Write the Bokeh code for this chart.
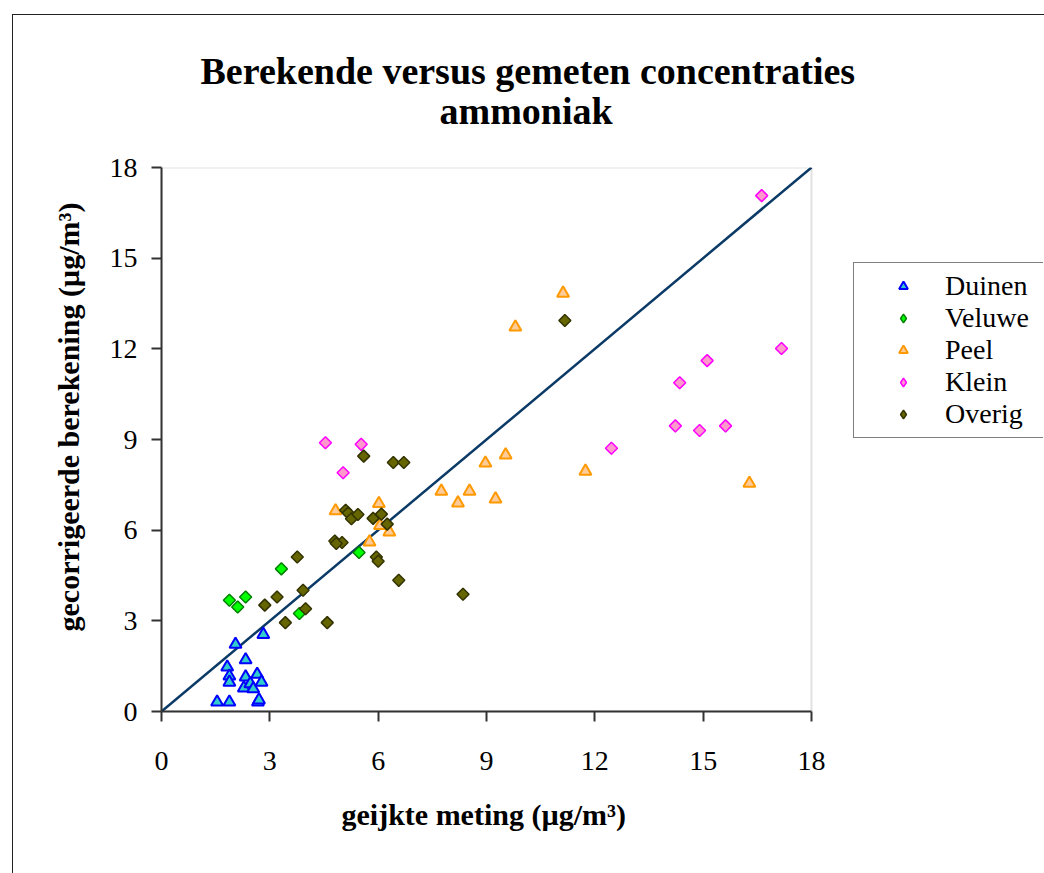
from math import pi
from bokeh.plotting import figure
from bokeh.models import Range1d, FixedTicker, Legend, LegendItem, Title, BoxAnnotation
from bokeh.embed import file_html
from bokeh.resources import INLINE

# ---- data ----
duinen_x = [1.54, 1.88, 2.67, 2.70, 2.05, 2.82, 2.33, 1.82, 1.88, 1.88, 2.33, 2.28, 2.46, 2.54, 2.65, 2.77]
duinen_y = [0.31, 0.31, 0.31, 0.38, 2.22, 2.55, 1.71, 1.47, 1.17, 0.97, 1.14, 0.78, 0.92, 0.75, 1.23, 0.97]

veluwe_x = [1.88, 2.11, 2.33, 3.32, 3.82, 5.47]
veluwe_y = [3.68, 3.46, 3.79, 4.72, 3.24, 5.26]

peel_x = [4.82, 6.02, 6.05, 6.31, 5.76, 7.75, 8.21, 8.53, 8.97, 9.53, 9.25, 11.12, 9.80, 11.74, 16.28]
peel_y = [6.64, 6.88, 6.15, 5.94, 5.61, 7.29, 6.90, 7.29, 8.22, 8.49, 7.03, 13.84, 12.72, 7.95, 7.55]

klein_x = [4.54, 5.53, 5.03, 17.17, 15.11, 14.35, 14.23, 14.90, 15.62, 12.46, 16.62]
klein_y = [8.89, 8.84, 7.90, 12.01, 11.61, 10.88, 9.45, 9.30, 9.45, 8.71, 17.07]

overig_x = [2.86, 3.20, 3.43, 3.76, 3.92, 3.99, 4.59, 4.80, 5.00, 4.84, 5.10, 5.17, 5.26, 5.44,
            5.86, 6.09, 6.25, 5.95, 6.00, 6.57, 5.60, 6.42, 6.71, 8.35, 11.17]
overig_y = [3.52, 3.79, 2.94, 5.11, 4.01, 3.40, 2.94, 5.64, 5.59, 5.56, 6.66, 6.57, 6.38, 6.52,
            6.39, 6.53, 6.20, 5.11, 4.97, 4.34, 8.45, 8.24, 8.24, 3.88, 12.94]

line_x = [0, 18]
line_y = [0, 18]

axis_min, axis_max = 0, 18
ticks = [0, 3, 6, 9, 12, 15, 18]

series_names = ["Duinen", "Veluwe", "Peel", "Klein", "Overig"]
title_lines = ["Berekende versus gemeten concentraties", "ammoniak"]
x_title = "geijkte meting (µg/m³)"
y_title = "gecorrigeerde berekening (µg/m³)"

FONT = "'Liberation Serif', 'Times New Roman', serif"

# the frame is widened to the right so that the legend lies inside it;
# the plotting area proper (0..18) keeps 650 px of width
PLOT_W, FRAME_W = 650, 882
x_end = axis_max * FRAME_W / PLOT_W

p = figure(
    width=1031, height=858,
    frame_width=FRAME_W, frame_height=544,
    min_border_left=148, min_border_right=1, min_border_top=152, min_border_bottom=162,
    x_range=Range1d(axis_min, x_end), y_range=Range1d(axis_min, axis_max),
    output_backend="svg", toolbar_location=None,
    background_fill_color="white", border_fill_color="white",
    title=None,
)
p.margin = (14, 0, 0, 12)
p.styles = {"border-left": "1px solid #222222", "border-top": "1px solid #222222"}

p.xgrid.visible = False
p.ygrid.visible = False
p.outline_line_color = None

# grey plot-area border (top and right sides show; axes cover the others)
p.add_layout(BoxAnnotation(left=axis_min, right=axis_max, bottom=axis_min, top=axis_max,
                           fill_alpha=0, line_color="#9a9a9a", line_width=2, level="underlay"))

for ax in (p.xaxis[0], p.yaxis[0]):
    ax.ticker = FixedTicker(ticks=ticks)
    ax.bounds = (axis_min, axis_max)
    ax.axis_line_color = "#333333"
    ax.axis_line_width = 2
    ax.major_tick_line_color = "#333333"
    ax.major_tick_line_width = 2
    ax.major_tick_out = 10
    ax.major_tick_in = 0
    ax.minor_tick_out = 0
    ax.minor_tick_in = 0
    ax.major_label_text_font = FONT
    ax.major_label_text_font_size = "28px"
    ax.major_label_text_color = "black"
    ax.axis_label_text_font = FONT
    ax.axis_label_text_font_size = "30px"
    ax.axis_label_text_font_style = "bold"
    ax.axis_label_text_color = "black"
p.xaxis.major_label_standoff = 30
p.yaxis.major_label_standoff = 14
# leading no-break spaces move the (rotated) title up a little, as in the original
p.yaxis.axis_label = "\u00a0" * 6 + y_title
p.yaxis.axis_label_standoff = 22

# x-axis title (placed under the axis, centred on the 0..18 area)
p.add_layout(Title(text=x_title, align="left", offset=180, standoff=47,
                   text_font=FONT, text_font_size="30px", text_font_style="bold",
                   text_color="black"), "below")

# diagonal 1:1 line
p.line(line_x, line_y, line_color="#0b3a66", line_width=2.5)

styles = {
    "Duinen": dict(fill_color="#33CCCC", line_color="#0000FF"),
    "Veluwe": dict(fill_color="#00FF00", line_color="#008000"),
    "Peel": dict(fill_color="#FFCC99", line_color="#FF9900"),
    "Klein": dict(fill_color="#FF99CC", line_color="#FF00FF"),
    "Overig": dict(fill_color="#666600", line_color="#333300"),
}
series_xy = {
    "Duinen": (duinen_x, duinen_y),
    "Veluwe": (veluwe_x, veluwe_y),
    "Peel": (peel_x, peel_y),
    "Klein": (klein_x, klein_y),
    "Overig": (overig_x, overig_y),
}

p.scatter(duinen_x, duinen_y, marker="triangle", size=12, line_width=2, **styles["Duinen"])
p.scatter(veluwe_x, veluwe_y, marker="square", angle=pi / 4, size=8.5, line_width=1.5, **styles["Veluwe"])
p.scatter(peel_x, peel_y, marker="triangle", size=12, line_width=2, **styles["Peel"])
p.scatter(klein_x, klein_y, marker="square", angle=pi / 4, size=8.5, line_width=1.5, **styles["Klein"])
p.scatter(overig_x, overig_y, marker="square", angle=pi / 4, size=8.5, line_width=1.5, **styles["Overig"])

# legend swatches: hidden copies of each series (diamonds show as diamonds in the legend)
legend_markers = {"Duinen": "triangle", "Veluwe": "diamond", "Peel": "triangle",
                  "Klein": "diamond", "Overig": "diamond"}
items = []
for name in series_names:
    mk = legend_markers[name]
    xs, ys = series_xy[name]
    r_swatch = p.scatter(xs, ys, marker=mk, size=12 if mk == "triangle" else 15,
                         line_width=2 if mk == "triangle" else 1.5, **styles[name])
    r_swatch.visible = False
    items.append(LegendItem(label=name, renderers=[r_swatch]))

legend = Legend(
    items=items,
    location=(692, 273), margin=0, padding=7, spacing=0,
    glyph_width=84, glyph_height=22, label_standoff=0, label_height=22, label_width=91,
    label_text_font=FONT, label_text_font_size="28px", label_text_font_style="normal",
    label_text_color="black",
    border_line_color="black", border_line_width=1,
    background_fill_color="white", background_fill_alpha=1,
)
p.add_layout(legend)

# two-line chart title, stacked outward from the frame: spacer, line 2, line 1
p.add_layout(Title(text=" ", standoff=33, text_font_size="1px"), "above")
p.add_layout(Title(text=title_lines[1], align="left", offset=278, standoff=0,
                   text_font=FONT, text_font_size="38px", text_font_style="bold",
                   text_color="black"), "above")
p.add_layout(Title(text=title_lines[0], align="left", offset=39, standoff=-8,
                   text_font=FONT, text_font_size="38px", text_font_style="bold",
                   text_color="black"), "above")

open("out.html", "w").write(file_html(p, INLINE))
